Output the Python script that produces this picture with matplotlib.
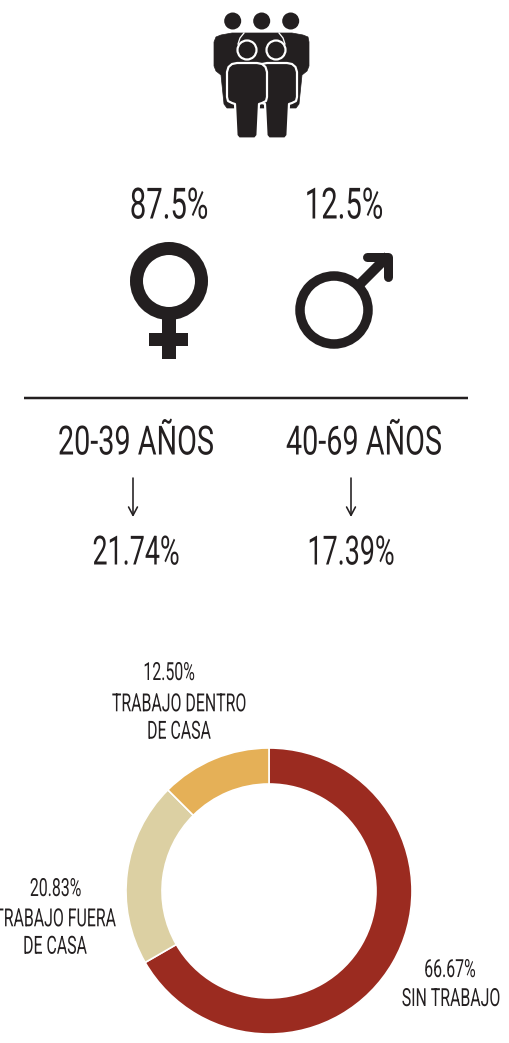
import matplotlib
matplotlib.use("Agg")
import matplotlib.pyplot as plt
from matplotlib.patches import Circle, Polygon, Rectangle
from matplotlib.patheffects import AbstractPathEffect
from matplotlib.transforms import Affine2D

# Values
gender_labels = ["87.5%", "12.5%"]
age_labels = ["20-39 AÑOS", "40-69 AÑOS"]
age_values = ["21.74%", "17.39%"]
work_values = [66.67, 20.83, 12.50]
work_pcts = ["66.67%", "20.83%", "12.50%"]
work_labels = ["SIN TRABAJO", "TRABAJO FUERA\nDE CASA", "TRABAJO DENTRO\nDE CASA"]
work_colors = ["#9b2b20", "#dcd0a3", "#e5b057"]

INK = "#231f20"
FONT = ["Roboto", "DejaVu Sans"]
W, H = 510, 1043
PT = 0.72  # points per pixel at dpi 100


class Squeeze(AbstractPathEffect):
    """Narrows text around its anchor, no condensed font is installed."""

    def __init__(self, anchor_px, sx):
        super().__init__()
        self.anchor_px = anchor_px
        self.sx = sx

    def draw_path(self, renderer, gc, tpath, affine, rgbFace=None):
        squeeze = Affine2D().translate(-self.anchor_px, 0).scale(self.sx, 1).translate(self.anchor_px, 0)
        renderer.draw_path(gc, tpath, affine + squeeze, rgbFace)


def label(ax, x, y, s, size, sx, **kw):
    ax.text(x, y, s, ha="center", va="center", fontsize=size, color=INK, family=FONT,
            path_effects=[Squeeze(x, sx)], **kw)


def person(ax, cx, top, half_w, leg_w, bottom, z):
    # Body outline of a front figure, white edge separates it from the back row
    pts = [(cx - half_w, top + 9), (cx - half_w + 1.5, top + 4), (cx - half_w + 5, top + 1), (cx - half_w + 10, top),
           (cx + half_w - 10, top), (cx + half_w - 5, top + 1), (cx + half_w - 1.5, top + 4), (cx + half_w, top + 9),
           (cx + half_w, top + 34), (cx + half_w - 1, top + 38), (cx + half_w - 5, top + 40), (cx + leg_w, top + 41),
           (cx + leg_w - 1.5, bottom - 3), (cx + leg_w - 4, bottom), (cx - leg_w + 4, bottom),
           (cx - leg_w + 1.5, bottom - 3), (cx - leg_w, top + 41), (cx - half_w + 5, top + 40),
           (cx - half_w + 1, top + 38), (cx - half_w, top + 34)]
    ax.add_patch(Polygon(pts, closed=True, fc=INK, ec="white", lw=2.2 * PT, zorder=z, joinstyle="round"))


def draw_people(ax):
    for cx in [232.7, 261.7, 290.7]:
        ax.add_patch(Circle((cx, 21), 8.5, fc=INK, ec="none", zorder=1))
    # back row, the two outer figures
    outer = [(214, 42), (216, 37), (221, 35), (232, 33), (292, 33), (303, 35), (308, 37), (309, 42), (309, 66),
             (307, 71), (302, 75), (299, 104), (296, 108), (289, 108), (234, 108), (227, 108), (224, 104),
             (221, 75), (216, 71), (214, 66)]
    ax.add_patch(Polygon(outer, closed=True, fc=INK, ec=INK, lw=0.5, zorder=1, joinstyle="round"))
    # shoulders of the middle back figure, white on both sides only
    ax.plot([238, 240, 244], [44, 38, 33], color="white", lw=1.3 * PT, zorder=2)
    ax.plot([285, 283, 279], [44, 38, 33], color="white", lw=1.3 * PT, zorder=2)
    # front row
    person(ax, 277, 63, 20, 12, 138.5, 3)
    person(ax, 247, 63, 20, 12, 138.5, 4)
    for cx in [247, 276]:
        ax.add_patch(Circle((cx, 50), 9.5, fc=INK, ec="white", lw=2.2 * PT, zorder=5))


def draw_female(ax):
    ax.add_patch(Circle((169, 281), 32.5, fc="none", ec=INK, lw=13 * PT))
    ax.add_patch(Rectangle((162.5, 318), 13.2, 41, fc=INK, ec="none"))
    ax.add_patch(Rectangle((149, 333), 39.5, 13, fc=INK, ec="none"))


def draw_male(ax):
    ax.add_patch(Circle((334, 310), 34, fc="none", ec=INK, lw=9.5 * PT))
    ax.plot([358, 388], [286, 256], color=INK, lw=10 * PT, solid_capstyle="butt")
    ax.plot([367, 388.5, 388.5], [256.5, 256.5, 277], color=INK, lw=9 * PT,
            solid_capstyle="round", solid_joinstyle="round")


def main():
    fig = plt.figure(figsize=(W / 100, H / 100), dpi=100)
    ax = fig.add_axes([0, 0, 1, 1])
    ax.set_xlim(0, W)
    ax.set_ylim(H, 0)
    ax.set_aspect("equal")
    ax.axis("off")

    draw_people(ax)
    draw_female(ax)
    draw_male(ax)

    # gender percentages
    for x, s in zip([169, 344], gender_labels):
        label(ax, x, 207, s, 31, 0.68)

    # divider
    ax.plot([24, 468], [398, 398], color=INK, lw=2.5 * PT, solid_capstyle="butt")

    # age groups
    for x, arrow_x, lab in zip([136, 364], [133, 351], age_labels):
        label(ax, x, 443, lab, 29, 0.715)
        ax.annotate("", xy=(arrow_x, 517), xytext=(arrow_x, 478),
                    arrowprops=dict(arrowstyle="->,head_width=0.32,head_length=0.6", color=INK, lw=1.6 * PT,
                                    shrinkA=0, shrinkB=0))
    for x, val in zip([136, 351], age_values):
        label(ax, x, 553, val, 29, 0.667)

    # work donut
    pie_ax = fig.add_axes([(269 - 143) / W, 1 - (891 + 143) / H, 286 / W, 286 / H])
    pie_ax.pie(work_values, colors=work_colors, startangle=90, counterclock=False, radius=1,
               wedgeprops=dict(width=36 / 143, edgecolor="white", linewidth=1.2))
    pie_ax.set_xlim(-1, 1)
    pie_ax.set_ylim(-1, 1)

    for (x, y), s in zip([(450, 970), (55.5, 889), (169, 673)], work_pcts):
        label(ax, x, y, s, 18, 0.635)
    for (x, y), s in zip([(451, 999), (55, 933), (179, 718)], work_labels):
        label(ax, x, y, s, 18, 0.635, linespacing=1.18)

    fig.savefig("out.png", dpi=100)


if __name__ == "__main__":
    main()
